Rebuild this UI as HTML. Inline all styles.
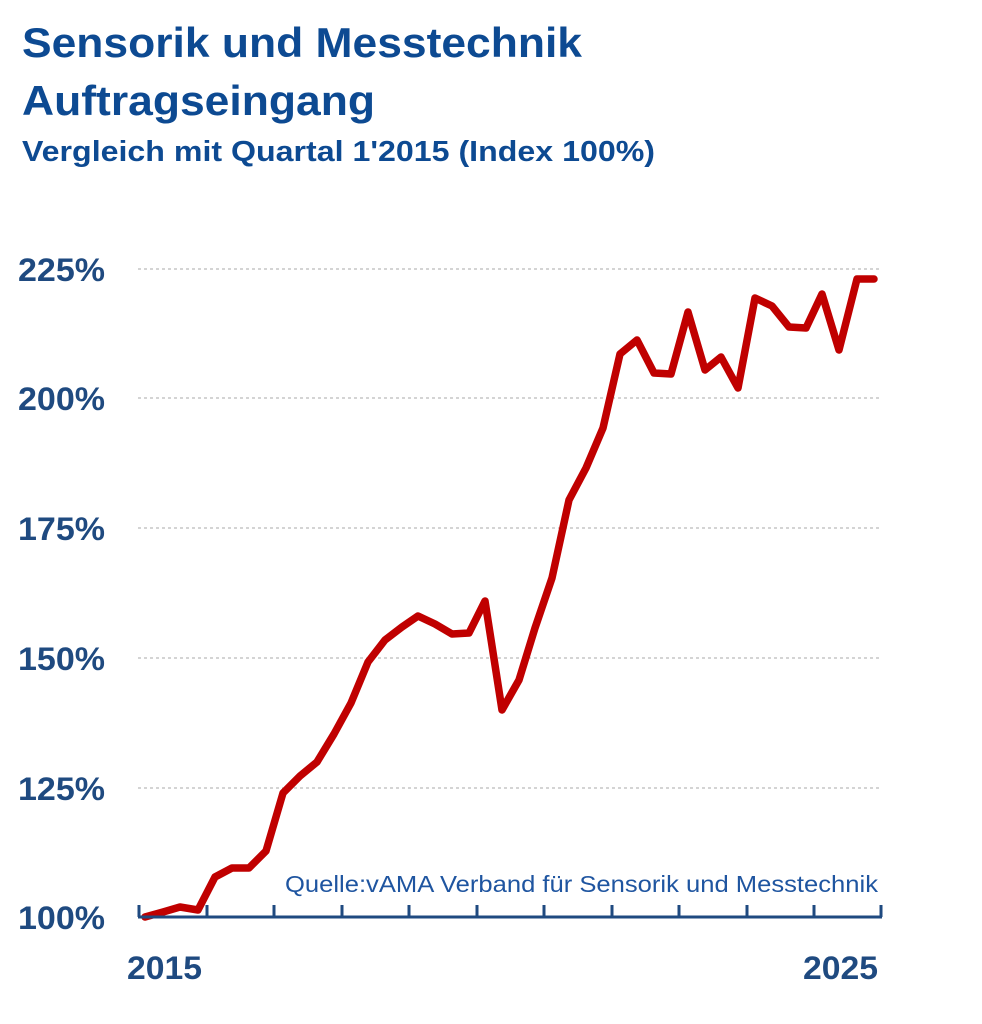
<!DOCTYPE html>
<html><head><meta charset="utf-8"><style>
html,body{margin:0;padding:0;background:#fff;}
svg{display:block;}
text{font-family:"Liberation Sans",sans-serif;}
</style></head><body>
<svg width="982" height="1024" viewBox="0 0 982 1024" xmlns="http://www.w3.org/2000/svg">
<rect width="982" height="1024" fill="#fff"/>
<text x="22" y="57" font-size="42" font-weight="bold" fill="#0d4a92" textLength="560" lengthAdjust="spacingAndGlyphs">Sensorik und Messtechnik</text>
<text x="22" y="115" font-size="42" font-weight="bold" fill="#0d4a92" textLength="353" lengthAdjust="spacingAndGlyphs">Auftragseingang</text>
<text x="22" y="161" font-size="29" font-weight="bold" fill="#0d4a92" textLength="633" lengthAdjust="spacingAndGlyphs">Vergleich mit Quartal 1'2015 (Index 100%)</text>
<g stroke="#aaa" stroke-width="1" stroke-dasharray="3,3">
<line x1="138" y1="269" x2="880" y2="269"/>
<line x1="138" y1="398" x2="880" y2="398"/>
<line x1="138" y1="528" x2="880" y2="528"/>
<line x1="138" y1="658" x2="880" y2="658"/>
<line x1="138" y1="788" x2="880" y2="788"/>
</g>
<g font-size="32" font-weight="bold" fill="#1f4a80">
<text x="18" y="281" textLength="87" lengthAdjust="spacingAndGlyphs">225%</text>
<text x="18" y="410" textLength="87" lengthAdjust="spacingAndGlyphs">200%</text>
<text x="18" y="540" textLength="87" lengthAdjust="spacingAndGlyphs">175%</text>
<text x="18" y="670" textLength="87" lengthAdjust="spacingAndGlyphs">150%</text>
<text x="18" y="800" textLength="87" lengthAdjust="spacingAndGlyphs">125%</text>
<text x="18" y="929" textLength="87" lengthAdjust="spacingAndGlyphs">100%</text>
<text x="127" y="979" textLength="75" lengthAdjust="spacingAndGlyphs">2015</text>
<text x="803" y="979" textLength="75" lengthAdjust="spacingAndGlyphs">2025</text>
</g>
<text x="878" y="892" font-size="23" fill="#1f55a0" text-anchor="end" textLength="593" lengthAdjust="spacingAndGlyphs">Quelle:vAMA Verband für Sensorik und Messtechnik</text>
<polyline fill="none" stroke="#c00000" stroke-width="7.5" stroke-linejoin="round" stroke-linecap="round" points="145,917 163,912 180,907 198,910 215,877 232,868 249,868 266,851 283,793 300,776 317,762 334,734 351,703 368,662 385,640 402,627 418,616 435,624 452,634 469,633 485,601 502,710 519,680 535,628 552,578 569,500 586,468 603,428 620,354 637,340 654,373 671,374 688,312 705,370 721,357 738,388 755,298 772,306 789,327 806,328 822,294 839,350 857,279 874,279"/>
<g stroke="#1f4a80" stroke-width="3" fill="none">
<line x1="138" y1="917" x2="882" y2="917"/>
<path d="M139 905V917M207 905V917M274 905V917M342 905V917M409 905V917M477 905V917M544 905V917M612 905V917M679 905V917M747 905V917M814 905V917M881 905V917"/>
</g>
</svg>
</body></html>
